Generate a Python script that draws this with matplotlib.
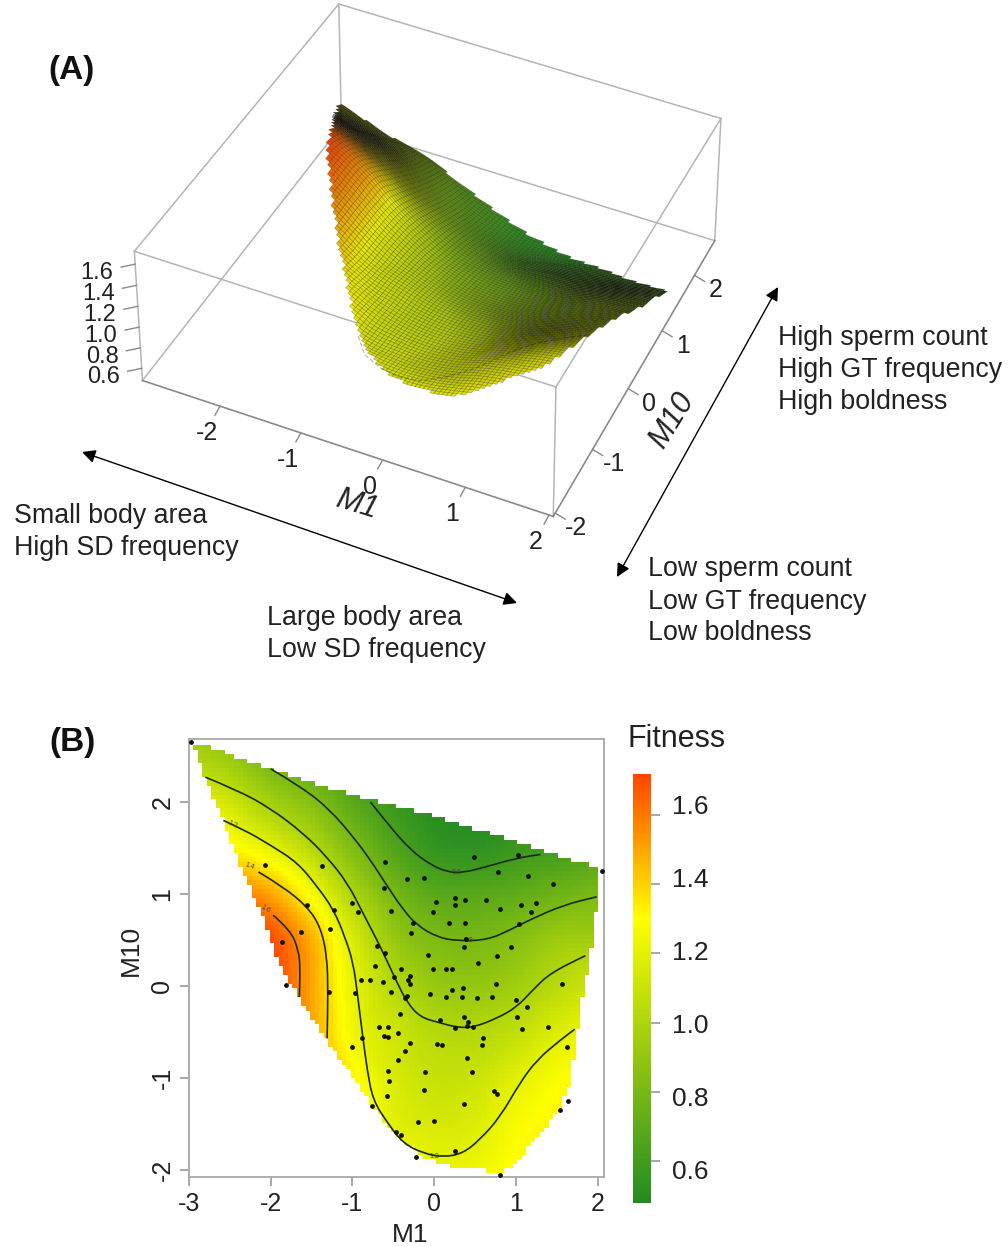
import numpy as np
import matplotlib
matplotlib.use('Agg')
import matplotlib.pyplot as plt
import matplotlib.tri as mtri
from matplotlib.collections import PolyCollection
from matplotlib.colors import LinearSegmentedColormap, Normalize
from matplotlib.patches import PathPatch
from matplotlib.path import Path

plt.rcParams['font.family'] = ['Liberation Sans', 'DejaVu Sans']
plt.rcParams['axes.unicode_minus'] = False

# fitness surface
m1_grid = [-3.0, -2.5, -2.0, -1.5, -1.0, -0.5, 0.0, 0.5, 1.0, 1.5, 2.0, 2.5]
m10_grid = [3.0, 2.5, 2.0, 1.5, 1.0, 0.5, 0.0, -0.5, -1.0, -1.5, -2.0, -2.5]
fitness_grid = [
    [0.85, 0.78, 0.70, 0.62, 0.55, 0.50, 0.48, 0.48, 0.48, 0.50, 0.52, 0.55],
    [1.00, 0.92, 0.78, 0.66, 0.56, 0.50, 0.48, 0.48, 0.50, 0.52, 0.56, 0.60],
    [1.25, 1.12, 0.96, 0.85, 0.69, 0.57, 0.50, 0.49, 0.50, 0.54, 0.60, 0.65],
    [1.45, 1.33, 1.20, 1.03, 0.83, 0.66, 0.55, 0.53, 0.57, 0.60, 0.65, 0.70],
    [1.70, 1.62, 1.50, 1.27, 1.00, 0.80, 0.69, 0.68, 0.71, 0.76, 0.81, 0.85],
    [1.80, 1.78, 1.70, 1.48, 1.16, 0.92, 0.82, 0.80, 0.85, 0.93, 0.95, 1.00],
    [1.85, 1.80, 1.72, 1.50, 1.22, 1.03, 0.92, 0.90, 0.95, 1.04, 1.12, 1.20],
    [1.85, 1.80, 1.70, 1.50, 1.25, 1.12, 1.03, 1.02, 1.07, 1.17, 1.24, 1.30],
    [1.85, 1.80, 1.70, 1.50, 1.33, 1.16, 1.09, 1.10, 1.19, 1.28, 1.33, 1.38],
    [1.85, 1.80, 1.70, 1.55, 1.40, 1.20, 1.15, 1.17, 1.27, 1.33, 1.36, 1.40],
    [1.85, 1.80, 1.70, 1.60, 1.45, 1.30, 1.23, 1.24, 1.31, 1.36, 1.38, 1.40],
    [1.85, 1.80, 1.70, 1.60, 1.50, 1.36, 1.30, 1.30, 1.34, 1.38, 1.40, 1.42],
]

# outline of the fitted region
hull = [(-2.95, 2.62), (-2.80, 2.27), (-2.58, 1.80), (-2.35, 1.26), (-2.09, 0.75), (-1.92, 0.28),
        (-1.61, -0.18), (-1.31, -0.59), (-1.03, -0.95), (-0.75, -1.32), (-0.45, -1.64), (-0.13, -1.86),
        (0.16, -1.95), (0.53, -2.00), (0.84, -2.02), (0.97, -1.97), (1.26, -1.64), (1.54, -1.35),
        (1.66, -1.05), (1.75, -0.51), (1.82, -0.08), (1.88, 0.17), (1.94, 0.50), (2.00, 0.97),
        (2.03, 1.28), (1.50, 1.42), (0.84, 1.61), (0.04, 1.84), (-0.78, 2.02), (-1.60, 2.24),
        (-2.33, 2.46), (-2.78, 2.62)]
# the 3D view stops lower than the map on its back edge
top_edge_m1 = [-3.0, -2.6, -1.6, -0.78, 0.0, 0.84, 2.1]
top_edge_m10 = [1.9, 1.9, 2.05, 1.95, 1.8, 1.6, 1.3]

# contour lines
contour_06 = [(-0.78, 2.00), (-0.54, 1.73), (-0.29, 1.48), (-0.05, 1.32), (0.16, 1.24), (0.35, 1.23),
              (0.65, 1.30), (1.01, 1.39), (1.30, 1.43)]
contour_08 = [(-2.00, 2.36), (-1.60, 2.15), (-1.27, 1.91), (-0.99, 1.62), (-0.78, 1.37), (-0.57, 1.08),
              (-0.38, 0.83), (-0.21, 0.66), (0.04, 0.53), (0.28, 0.49), (0.65, 0.50), (0.93, 0.61),
              (1.17, 0.72), (1.58, 0.88), (1.99, 0.97)]
contour_10 = [(-2.80, 2.27), (-2.41, 2.13), (-2.00, 1.93), (-1.60, 1.66), (-1.31, 1.40), (-1.06, 1.12),
              (-0.87, 0.79), (-0.70, 0.50), (-0.57, 0.26), (-0.45, 0.03), (-0.33, -0.18), (-0.17, -0.34),
              (0.07, -0.40), (0.28, -0.45), (0.48, -0.45), (0.77, -0.35), (1.01, -0.23), (1.21, -0.04),
              (1.42, 0.14), (1.85, 0.33)]
contour_12 = [(-2.58, 1.80), (-2.33, 1.70), (-2.00, 1.53), (-1.67, 1.34), (-1.43, 1.08), (-1.23, 0.83),
              (-1.09, 0.53), (-0.99, 0.25), (-0.94, -0.08), (-0.88, -0.51), (-0.82, -0.91), (-0.75, -1.24),
              (-0.57, -1.49), (-0.38, -1.71), (-0.13, -1.82), (0.11, -1.86), (0.35, -1.82), (0.56, -1.67),
              (0.81, -1.42), (1.05, -1.05), (1.26, -0.80), (1.54, -0.59), (1.72, -0.47)]
contour_14 = [(-2.15, 1.24), (-1.85, 1.08), (-1.55, 0.86), (-1.39, 0.64), (-1.31, 0.32), (-1.30, -0.08),
              (-1.31, -0.57)]
contour_16 = [(-1.97, 0.77), (-1.76, 0.61), (-1.66, 0.39), (-1.64, 0.20), (-1.65, -0.12)]
contour_labels = [('0.6', 0.28, 1.235, 0), ('0.8', 0.42, 0.495, 0), ('1.2', 0.0, -1.85, 0),
                  ('1.2', -2.47, 1.75, -25), ('1.4', -2.26, 1.30, -20), ('1.6', -2.06, 0.84, -30)]

# individuals
points = [(-2.97, 2.65), (-2.07, 1.31), (-1.37, 1.30), (-0.60, 1.35), (0.49, 1.40), (1.02, 1.42),
          (2.05, 1.25), (-0.33, 1.16), (-0.12, 1.17), (0.78, 1.24), (1.15, 1.20), (1.45, 1.11),
          (-0.61, 1.07), (-1.56, 0.88), (-1.23, 0.83), (-1.00, 0.90), (-0.93, 0.80), (-0.53, 0.82),
          (0.02, 0.91), (0.26, 0.96), (0.38, 0.94), (0.26, 0.88), (0.63, 0.93), (-0.02, 0.80),
          (0.81, 0.84), (1.06, 0.88), (1.24, 0.90), (1.19, 0.80), (-1.27, 0.62), (-1.63, 0.59),
          (-1.86, 0.48), (-0.26, 0.69), (0.18, 0.68), (0.38, 0.69), (1.04, 0.67), (-0.28, 0.58),
          (0.39, 0.51), (0.37, 0.42), (0.94, 0.42), (-0.70, 0.43), (-0.60, 0.36), (-0.07, 0.34),
          (0.77, 0.33), (0.54, 0.25), (-0.73, 0.22), (-0.41, 0.19), (-0.01, 0.18), (0.15, 0.19),
          (0.22, 0.19), (-0.49, 0.10), (-0.29, 0.11), (-0.32, 0.07), (-0.30, 0.02), (-0.89, 0.06),
          (-0.79, 0.06), (-0.63, 0.04), (0.76, 0.02), (1.57, 0.02), (-1.81, 0.01), (-1.29, -0.07),
          (-0.97, -0.08), (-0.53, -0.07), (-0.05, -0.09), (0.22, -0.04), (0.35, -0.02), (0.15, -0.12),
          (0.34, -0.12), (0.53, -0.13), (0.71, -0.12), (-0.33, -0.11), (-0.36, -0.13), (1.00, -0.15),
          (1.13, -0.23), (-0.42, -0.30), (0.07, -0.37), (0.36, -0.34), (0.41, -0.39), (0.40, -0.43),
          (0.25, -0.46), (0.48, -0.45), (1.01, -0.34), (1.08, -0.47), (1.39, -0.45), (-0.67, -0.45),
          (-0.57, -0.45), (-0.44, -0.51), (-0.62, -0.54), (-0.57, -0.55), (-0.88, -0.57), (-1.00, -0.66),
          (-0.29, -0.62), (-0.36, -0.71), (-0.44, -0.80), (0.04, -0.63), (0.09, -0.64), (0.60, -0.57),
          (0.58, -0.64), (0.40, -0.78), (1.63, -0.66), (-0.57, -0.92), (-0.11, -0.93), (0.46, -0.93),
          (-0.55, -1.03), (-0.12, -1.13), (0.73, -1.14), (0.77, -1.17), (-0.58, -1.20), (0.37, -1.28),
          (1.64, -1.25), (-0.76, -1.30), (1.54, -1.35), (-0.20, -1.48), (0.00, -1.47), (-0.41, -1.62),
          (-0.47, -1.59), (0.25, -1.79), (-0.22, -1.86), (0.80, -2.05)]

fit_ticks = [0.6, 0.8, 1.0, 1.2, 1.4, 1.6]
m1_ticks = [-2, -1, 0, 1, 2]
m10_ticks = [-2, -1, 0, 1, 2]

fit_min, fit_max = 0.479, 1.718
cmap = LinearSegmentedColormap.from_list(
    'fit', [(0, '#228B22'), ((1.30 - fit_min) / (fit_max - fit_min), '#FFFF00'), (1, '#FF4500')])
norm = Normalize(fit_min, fit_max)

# smooth the read grid with matplotlib's own interpolator
gx, gy = np.meshgrid(m1_grid, m10_grid)
tri = mtri.Triangulation(gx.ravel(), gy.ravel())
surface = mtri.CubicTriInterpolator(tri, np.array(fitness_grid).ravel(), kind='geom')
hull_path = Path(np.array(hull + [hull[0]]))


def box_blur(a, n):
    k = np.ones(n) / n
    a = np.pad(a, n, mode='edge')
    a = np.apply_along_axis(lambda r: np.convolve(r, k, mode='same'), 0, a)
    a = np.apply_along_axis(lambda r: np.convolve(r, k, mode='same'), 1, a)
    return a[n:-n, n:-n]


def curve(line):
    # quadratic spline through the midpoints of the read vertices
    xy = np.array(line)
    verts = [xy[0]]
    codes = [Path.MOVETO]
    for i in range(1, len(xy) - 1):
        verts += [xy[i], (xy[i] + xy[i + 1]) / 2]
        codes += [Path.CURVE3, Path.CURVE3]
    verts.append(xy[-1])
    codes.append(Path.LINETO)
    return Path(np.array(verts), codes)


fig = plt.figure(figsize=(10.08, 12.47), dpi=100)
W, H = 1008, 1247

# whole figure in pixels, for panel A and the notes
ax_a = fig.add_axes([0, 0, 1, 1])
ax_a.set_xlim(0, W)
ax_a.set_ylim(H, 0)
ax_a.axis('off')

# view of the box, fitted to its corners (like trans3d in R)
box_x = (-2.97, 2.05)
box_y = (-2.05, 2.65)
box_z = (0.48, 1.72)
corner_pix = {(0, 0, 0): (145, 385), (1, 0, 0): (552, 517), (1, 1, 0): (712, 247), (0, 1, 0): (343, 115),
              (0, 0, 1): (132, 250), (1, 0, 1): (557, 383), (1, 1, 1): (724, 115), (0, 1, 1): (337, 12)}
rows, rhs = [], []
for (i, j, k), (u, v) in corner_pix.items():
    X, Y, Z = box_x[i], box_y[j], box_z[k]
    rows.append([X, Y, Z, 1, 0, 0, 0, 0, -u * X, -u * Y, -u * Z])
    rows.append([0, 0, 0, 0, X, Y, Z, 1, -v * X, -v * Y, -v * Z])
    rhs += [u, v]
p = np.linalg.lstsq(np.array(rows, float), np.array(rhs, float), rcond=None)[0]


def project(x, y, z):
    x, y, z = np.asarray(x, float), np.asarray(y, float), np.asarray(z, float)
    w = p[8] * x + p[9] * y + p[10] * z + 1
    return (p[0] * x + p[1] * y + p[2] * z + p[3]) / w, (p[4] * x + p[5] * y + p[6] * z + p[7]) / w


# box
edges = [((0, 0, 1), (1, 0, 1)), ((1, 0, 1), (1, 1, 1)), ((1, 1, 1), (0, 1, 1)), ((0, 1, 1), (0, 0, 1)),
         ((0, 0, 0), (0, 1, 0)), ((0, 1, 0), (1, 1, 0)), ((0, 1, 0), (0, 1, 1)), ((1, 0, 0), (1, 0, 1)),
         ((1, 1, 0), (1, 1, 1)), ((0, 0, 0), (0, 0, 1))]
for a, b in edges:
    u, v = project([box_x[a[0]], box_x[b[0]]], [box_y[a[1]], box_y[b[1]]], [box_z[a[2]], box_z[b[2]]])
    ax_a.plot(u, v, color='#b5b5b5', lw=1.1, zorder=1)
for a, b in [((0, 0, 0), (1, 0, 0)), ((1, 0, 0), (1, 1, 0))]:
    u, v = project([box_x[a[0]], box_x[b[0]]], [box_y[a[1]], box_y[b[1]]], [box_z[a[2]], box_z[b[2]]])
    ax_a.plot(u, v, color='#8a8a8a', lw=1.2, zorder=1)

# surface
step = 0.05
sx = np.arange(-3.0, 2.1, step)
sy = np.arange(-2.05, 2.7, step)
SX, SY = np.meshgrid(sx, sy)
SZ = np.ma.filled(surface(SX, SY), 1.0)
inside = hull_path.contains_points(np.c_[SX.ravel(), SY.ravel()]).reshape(SX.shape)
inside &= SY < np.interp(SX, top_edge_m1, top_edge_m10)
dzdy, dzdx = np.gradient(box_blur(SZ, 15), step)
nx, ny = -dzdx * 162 / 88.6, -dzdy * 162 / 83.6
nn = np.sqrt(nx ** 2 + ny ** 2 + 1)
lit = (nx * 0.33 - ny * 0.67 + 0.66) / nn
shade = np.interp(lit, [0.05, 0.11, 0.31, 0.36, 0.49], [0.08, 0.12, 0.62, 0.75, 0.92])
U, V = project(SX, SY, SZ)
polys, cols = [], []
for j in range(len(sy) - 2, -1, -1):
    for i in range(len(sx) - 1):
        if inside[j, i] and inside[j, i + 1] and inside[j + 1, i] and inside[j + 1, i + 1]:
            polys.append([(U[j, i], V[j, i]), (U[j, i + 1], V[j, i + 1]),
                          (U[j + 1, i + 1], V[j + 1, i + 1]), (U[j + 1, i], V[j + 1, i])])
            c = np.array(cmap(norm(SZ[j, i])))
            c[:3] *= shade[j, i]
            cols.append(c)
ax_a.add_collection(PolyCollection(polys, facecolors=cols, edgecolors=(0, 0, 0, 0.28), linewidths=0.5, zorder=2))
# faint 1.2 contour on the surface
c12 = np.array(contour_12[12:])
u, v = project(c12[:, 0], c12[:, 1], np.full(len(c12), 1.2))
ax_a.plot(u, v, color='black', lw=0.8, alpha=0.3, ls=(0, (4, 2)), zorder=3)

# ticks of the box
for t in m1_ticks:
    u, v = project(t, box_y[0], box_z[0])
    ax_a.plot([u, u - 5], [v, v + 9], color='#8a8a8a', lw=1)
    ax_a.text(u - 13, v + 27, str(t), fontsize=18, ha='center', va='center', color='#222222')
for t in m10_ticks:
    u, v = project(box_x[1], t, box_z[0])
    ax_a.plot([u, u + 10], [v, v + 6], color='#8a8a8a', lw=1)
    ax_a.text(u + 21, v + 15, str(t), fontsize=18, ha='center', va='center', color='#222222')
for t in fit_ticks:
    u, v = project(box_x[0], box_y[0], t)
    ax_a.plot([u, u - 14], [v, v + 3], color='#8a8a8a', lw=1)
    ax_a.text(u - 38, v + 9, '%.1f' % t, fontsize=17, ha='center', va='center', color='#222222')
ax_a.text(357, 505, 'M1', fontsize=22, style='italic', rotation=-17, ha='center', va='center', color='#222222')
ax_a.text(672, 421, 'M10', fontsize=22, style='italic', rotation=58, ha='center', va='center', color='#222222')

# notes around panel A
arrow = dict(arrowstyle='<|-|>', color='black', lw=1, shrinkA=0, shrinkB=0, mutation_scale=20)
ax_a.annotate('', xy=(82, 452), xytext=(517, 603), arrowprops=arrow)
ax_a.annotate('', xy=(778, 287), xytext=(617, 577), arrowprops=arrow)
notes = [(14, 516, 'Small body area'), (14, 548, 'High SD frequency'),
         (267, 618, 'Large body area'), (267, 650, 'Low SD frequency'),
         (778, 338, 'High sperm count'), (778, 370, 'High GT frequency'), (778, 402, 'High boldness'),
         (648, 569, 'Low sperm count'), (648, 602, 'Low GT frequency'), (648, 633, 'Low boldness')]
for x, y, s in notes:
    ax_a.text(x, y, s, fontsize=19.3, ha='left', va='center', color='#222222')
ax_a.text(48, 70, '(A)', fontsize=24, fontweight='bold', ha='left', va='center', color='#111111')
ax_a.text(49, 742, '(B)', fontsize=24, fontweight='bold', ha='left', va='center', color='#111111')
ax_a.text(628, 739, 'Fitness', fontsize=22, ha='left', va='center', color='#222222')

# panel B
ax_b = fig.add_axes([189 / W, (H - 1177) / H, 415 / W, 438 / H])
cell_x = 4.5 / 81.8
cell_y = 4.5 / 92
ex = np.arange(-3.0, 2.12, cell_x)
ey = np.arange(-2.08, 2.72, cell_y)
cx, cy = np.meshgrid((ex[:-1] + ex[1:]) / 2, (ey[:-1] + ey[1:]) / 2)
cz = surface(cx, cy)
mask = ~hull_path.contains_points(np.c_[cx.ravel(), cy.ravel()]).reshape(cx.shape)
mesh = ax_b.pcolormesh(ex, ey, np.ma.array(cz, mask=mask), cmap=cmap, norm=norm, antialiased=False, linewidth=0)
for line in [contour_06, contour_08, contour_10, contour_12, contour_14, contour_16]:
    ax_b.add_patch(PathPatch(curve(line), fill=False, edgecolor='#1a2a10', lw=1.2))
for s, x, y, r in contour_labels:
    ax_b.text(x, y, s, fontsize=5, color='#444444', ha='center', va='center', rotation=r)
pts = np.array(points)
ax_b.scatter(pts[:, 0], pts[:, 1], s=12, color='#101010', linewidths=0, clip_on=False, zorder=3)
ax_b.set_xlim(-3.0, 2.078)
ax_b.set_ylim(-2.076, 2.685)
ax_b.set_xticks([-3, -2, -1, 0, 1, 2])
ax_b.set_yticks([-2, -1, 0, 1, 2])
ax_b.tick_params(color='#999999', length=6.5, width=1.2, labelsize=18, labelcolor='#222222', pad=4)
for lab in ax_b.get_yticklabels():
    lab.set_rotation(90)
    lab.set_va('center')
for sp in ax_b.spines.values():
    sp.set_color('#a8a8a8')
    sp.set_linewidth(1.3)
ax_b.set_xlabel('M1', fontsize=19, color='#222222')
ax_b.set_ylabel('M10', fontsize=19, color='#222222')
ax_b.xaxis.set_label_coords(0.533, -0.105)
ax_b.yaxis.set_label_coords(-0.112, 0.518)

# colour key
cax = fig.add_axes([633 / W, (H - 1203) / H, 18 / W, 429 / H])
cb = fig.colorbar(mesh, cax=cax, ticks=fit_ticks)
cb.outline.set_visible(False)
cb.ax.tick_params(color='#999999', length=6.5, width=1.2, labelright=False)
for t in fit_ticks:
    ax_a.text(672, 953 + (1.2 - t) * 365, '%.1f' % t, fontsize=19, ha='left', va='center', color='#222222')

fig.savefig('out.png', dpi=100)
